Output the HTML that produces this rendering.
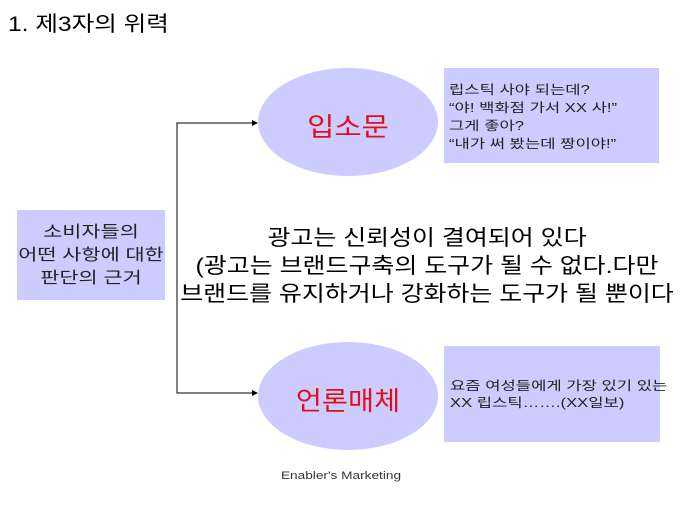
<!DOCTYPE html>
<html><head><meta charset="utf-8"><style>
body{margin:0;width:680px;height:510px;background:#fff;overflow:hidden;position:relative;font-family:"Liberation Sans","Noto Sans CJK KR","NanumGothic",sans-serif}
.a{position:absolute;white-space:nowrap}
.box{position:absolute;background:#ccccff}
</style></head><body>
<div class="a" style="left:8px;top:8px;font-size:21px;color:#000;transform:scaleX(1.17);transform-origin:0 0">1. 제3자의 위력</div>
<svg width="680" height="510" style="position:absolute;left:0;top:0">
<ellipse cx="348" cy="122" rx="90" ry="54" fill="#ccccff"/>
<ellipse cx="348" cy="396" rx="90" ry="54" fill="#ccccff"/>
<path d="M254 123H177V393H254" fill="none" stroke="#000" stroke-width="1"/>
<polygon points="258,123 252,120 252,126" fill="#000"/>
<polygon points="258,393 252,390 252,396" fill="#000"/>
</svg>
<div class="box" style="left:17px;top:210px;width:148px;height:90px"></div>
<div class="a" style="left:17px;width:148px;top:221px;text-align:center;font-size:16px;line-height:23px;color:#222;transform:scaleX(1.3);transform-origin:74px 0">소비자들의<br>어떤 사항에 대한<br>판단의 근거</div>
<div class="box" style="left:444px;top:68px;width:215px;height:95px"></div>
<div class="a" style="left:449px;top:81px;font-size:12.5px;line-height:18px;color:#222;transform:scaleX(1.33);transform-origin:0 0">립스틱 사야 되는데?<br>“야! 백화점 가서 XX 사!”<br>그게 좋아?<br>“내가 써 봤는데 짱이야!”</div>
<div class="box" style="left:444px;top:346px;width:216px;height:96px"></div>
<div class="a" style="left:450px;top:378px;font-size:12.5px;line-height:17px;color:#222;transform:scaleX(1.33);transform-origin:0 0">요즘 여성들에게 가장 있기 있는<br>XX 립스틱…….(XX일보)</div>
<div class="a" style="left:258px;width:180px;top:107px;text-align:center;font-size:26px;color:#e0101a;transform:scaleX(1.14);transform-origin:90px 0">입소문</div>
<div class="a" style="left:258px;width:180px;top:381px;text-align:center;font-size:26px;color:#e0101a;transform:scaleX(1.09);transform-origin:90px 0">언론매체</div>
<div class="a" style="left:176px;width:502px;top:224px;text-align:center;font-size:21.5px;line-height:28px;color:#000;transform:scaleX(1.16);transform-origin:251px 0">광고는 신뢰성이 결여되어 있다<br>(광고는 브랜드구축의 도구가 될 수 없다.다만<br>브랜드를 유지하거나 강화하는 도구가 될 뿐이다</div>
<div class="a" style="left:241px;width:200px;top:470px;text-align:center;font-size:11px;color:#333;transform:scaleX(1.24);transform-origin:100px 0">Enabler's Marketing</div>
</body></html>
